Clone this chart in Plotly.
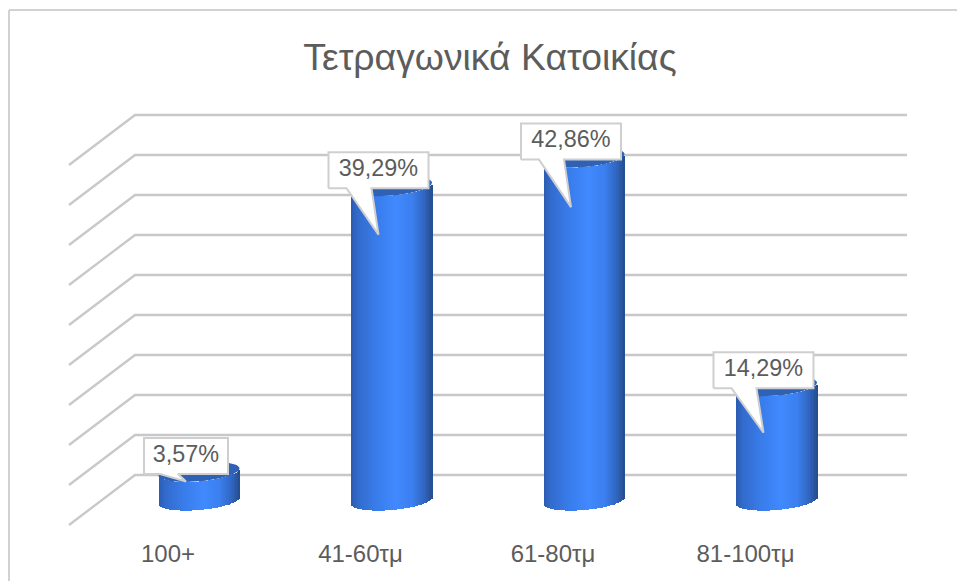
"""
Τετραγωνικά Κατοικίας - cylinder bars on a faked 3D wall
"""
import numpy as np
import plotly.graph_objects as go

categories = ['100+', '41-60τμ', '61-80τμ', '81-100τμ']
values = [3.57, 39.29, 42.86, 14.29]
grid_values = [0, 5, 10, 15, 20, 25, 30, 35, 40, 45]
title_text = 'Τετραγωνικά Κατοικίας'

# pixel scale of the picture, everything below is converted through it
PX_PER_CAT = 192.5
PX_PER_VALUE = 8.0
FIRST_BAR_PX = 199.0
ZERO_PX = 500.0
PLOT_BOTTOM_PX = 537.0
WIDTH, HEIGHT = 957, 581

TEXT = '#5c5c5c'
GRID = '#c8c8c8'
FONT = 'Liberation Sans'
CAP = '#2f62b4'

x_range = [-FIRST_BAR_PX / PX_PER_CAT, (WIDTH - FIRST_BAR_PX) / PX_PER_CAT]
y_range = [(ZERO_PX - PLOT_BOTTOM_PX) / PX_PER_VALUE, ZERO_PX / PX_PER_VALUE]


def dx(px):
    return px / PX_PER_CAT


def dy(px):
    return px / PX_PER_VALUE


fig = go.Figure()

# gradient across the cylinder, as thin overlapping bars
stops_u = [0.0, 0.08, 0.3, 0.55, 0.75, 0.9, 1.0]
stops_r = [0x2c, 0x32, 0x39, 0x41, 0x3c, 0x30, 0x26]
stops_g = [0x5c, 0x6b, 0x7c, 0x8a, 0x80, 0x66, 0x4c]
stops_b = [0xb0, 0xcc, 0xea, 0xff, 0xf0, 0xc0, 0x8c]

BAR_PX = 81.0
HALF = BAR_PX / 2
TILT = 3.5
MINOR = 9.5
n_strips = 54
strip = dx(BAR_PX) / n_strips
for i in range(n_strips):
    u = (i + 0.5) / n_strips
    c = 2 * u - 1
    color = 'rgb(%d,%d,%d)' % (np.interp(u, stops_u, stops_r),
                               np.interp(u, stops_u, stops_g),
                               np.interp(u, stops_u, stops_b))
    # lower front arc of the tilted ellipse
    drop = 0.5 - TILT * c + MINOR * np.sqrt(1 - c ** 2)
    fig.add_trace(go.Bar(
        x=list(range(len(categories))),
        y=values,
        base=-dy(drop),
        width=strip * 1.4,
        offset=-dx(HALF) + i * strip,
        marker=dict(color=color, line=dict(width=0)),
        showlegend=False,
        hoverinfo='skip',
    ))

# top caps
t = np.linspace(0, 2 * np.pi, 90)
for i, v in enumerate(values):
    fig.add_trace(go.Scatter(
        x=i + dx(HALF) * np.cos(t),
        y=v - dy(0.5 - TILT * np.cos(t) + MINOR * np.sin(t)),
        mode='lines',
        fill='toself',
        fillcolor=CAP,
        line=dict(width=0, color=CAP),
        showlegend=False,
        hoverinfo='skip',
    ))

# callouts
box_widths = [84, 100, 100, 100]
tail_drops = [10, 49, 50, 47]
BOX_H = 36
BOX_SHIFT = -13
for i, v in enumerate(values):
    cx = i + dx(BOX_SHIFT)
    half = dx(box_widths[i] / 2)
    bottom = v - dy(2.5)
    top = bottom + dy(BOX_H)
    tip = v - dy(tail_drops[i])
    tail_left = cx - dx(32 if box_widths[i] > 84 else 26)
    tail_right = cx - dx(7 if box_widths[i] > 84 else 8)
    xs = [cx - half, tail_left, cx, tail_right, cx + half, cx + half, cx - half, cx - half]
    ys = [bottom, bottom, tip, bottom, bottom, top, top, bottom]
    fig.add_trace(go.Scatter(
        x=xs, y=ys,
        mode='lines',
        fill='toself',
        fillcolor='white',
        line=dict(width=2, color='#cfcfcf'),
        showlegend=False,
        hoverinfo='skip',
    ))

fig.add_trace(go.Scatter(
    x=[i + dx(BOX_SHIFT) for i in range(len(values))],
    y=[v - dy(2.5) + dy(BOX_H / 2) for v in values],
    text=[('%.2f%%' % v).replace('.', ',') for v in values],
    mode='text',
    textposition='middle center',
    textfont=dict(family=FONT, size=23.4, color=TEXT),
    showlegend=False,
    hoverinfo='skip',
))

# back wall lines and the slanted side wall
shapes = []
back_left = (135 - FIRST_BAR_PX) / PX_PER_CAT
back_right = (907 - FIRST_BAR_PX) / PX_PER_CAT
front_left = (69 - FIRST_BAR_PX) / PX_PER_CAT
for g in grid_values:
    path = 'M %f,%f L %f,%f L %f,%f' % (front_left, g - dy(25), back_left, g + dy(25),
                                        back_right, g + dy(25))
    shapes.append(dict(type='path', path=path, xref='x', yref='y', layer='below',
                       line=dict(color=GRID, width=2.3)))

# outer chart border, top and left only
shapes.append(dict(type='line', xref='paper', yref='paper', layer='below',
                   x0=9 / WIDTH, x1=1, y0=1 - 10 / PLOT_BOTTOM_PX, y1=1 - 10 / PLOT_BOTTOM_PX,
                   line=dict(color='#d2d2d2', width=2)))
shapes.append(dict(type='line', xref='paper', yref='paper', layer='below',
                   x0=9 / WIDTH, x1=9 / WIDTH, y0=1 - 10 / PLOT_BOTTOM_PX, y1=-0.1,
                   line=dict(color='#d2d2d2', width=2)))

label_shift = dx(-31)
fig.update_layout(
    width=WIDTH,
    height=HEIGHT,
    margin=dict(l=0, r=0, t=0, b=HEIGHT - PLOT_BOTTOM_PX),
    autosize=False,
    barmode='overlay',
    bargap=0,
    paper_bgcolor='white',
    plot_bgcolor='white',
    showlegend=False,
    shapes=shapes,
    title=dict(text=title_text, x=490 / WIDTH, xanchor='center', y=1 - 57 / HEIGHT, yanchor='middle',
               font=dict(family=FONT, size=37.3, color=TEXT)),
    xaxis=dict(
        range=x_range,
        tickmode='array',
        tickvals=[i + label_shift for i in range(len(categories))],
        ticktext=categories,
        tickfont=dict(family=FONT, size=24, color=TEXT),
        showgrid=False,
        zeroline=False,
        showline=False,
        ticks='',
    ),
    yaxis=dict(range=y_range, visible=False),
)

fig.write_html('out.html', config=dict(displayModeBar=False),
               post_script="document.body.style.margin='0';document.body.style.overflow='hidden';")
